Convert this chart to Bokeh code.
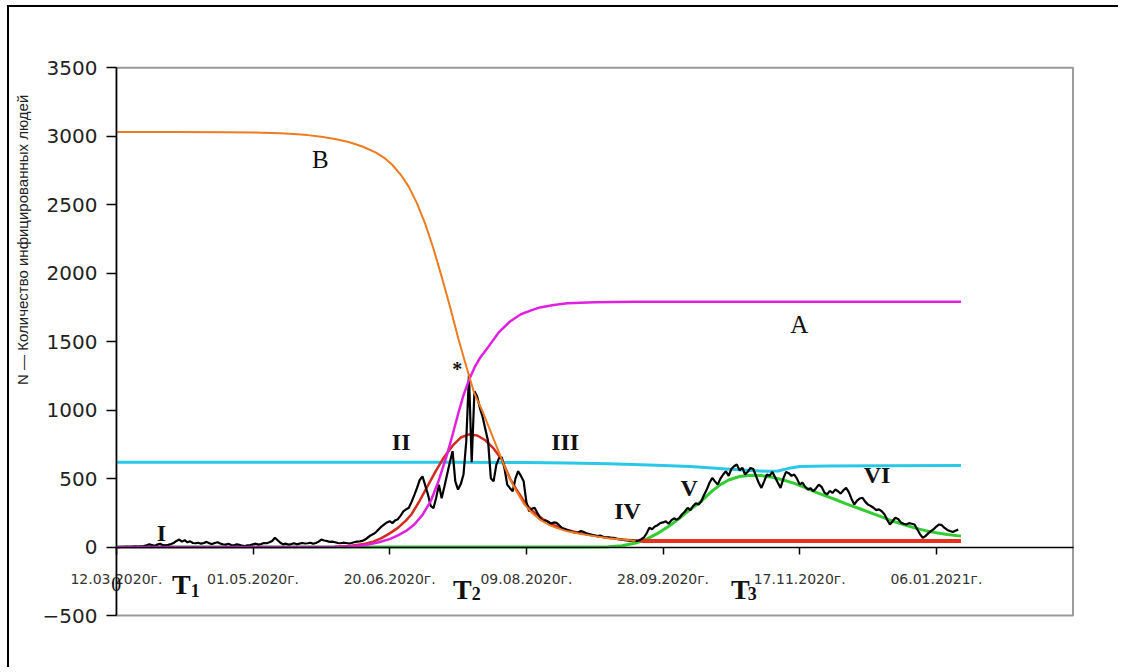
from math import pi
from bokeh.plotting import figure
from bokeh.models import Label, FixedTicker, BoxAnnotation
from bokeh.embed import file_html
from bokeh.resources import INLINE

# ---------------- data (days since 12.03.2020) ----------------
x_tick_days = [0, 50, 100, 150, 200, 250, 300]
x_tick_labels = ["12.03.2020г.", "01.05.2020г.", "20.06.2020г.", "09.08.2020г.",
                 "28.09.2020г.", "17.11.2020г.", "06.01.2021г."]
y_ticks = [-500, 0, 500, 1000, 1500, 2000, 2500, 3000, 3500]

# observed daily infected (black)
black_vals = [
    0, 0, 1, 2, 3, 2, 4, 5, 3, 6,
    8, 12, 20, 15, 10, 18, 25, 14, 12, 16,
    22, 30, 45, 55, 40, 50, 35, 42, 30, 28,
    32, 25, 30, 38, 28, 22, 30, 35, 26, 20,
    18, 24, 15, 12, 20, 16, 10, 8, 12, 15,
    20, 25, 18, 22, 30, 28, 35, 45, 68, 50,
    32, 20, 25, 18, 22, 28, 20, 25, 30, 26,
    28, 32, 24, 30, 40, 55, 48, 45, 38, 40,
    35, 30, 28, 32, 30, 26, 30, 35, 40, 42,
    45, 55, 70, 85, 95, 110, 130, 150, 165, 180,
    189, 175, 195, 204, 230, 260, 275, 287, 330, 380,
    432, 490, 517, 450, 384, 300, 284, 360, 456, 357,
    440, 530, 620, 700, 480, 420, 460, 530, 770, 1260,
    620, 1137, 1100, 1015, 950, 860, 772, 503, 480, 600,
    650, 655, 576, 456, 430, 408, 500, 554, 520, 480,
    330, 262, 280, 287, 250, 215, 190, 195, 185, 170,
    180, 177, 160, 140, 131, 125, 118, 110, 104, 108,
    117, 110, 100, 95, 90, 85, 80, 85, 75, 70,
    72, 68, 68, 60, 58, 55, 50, 48, 45, 50,
    44, 48, 58, 70, 100, 141, 130, 150, 160, 175,
    180, 189, 170, 195, 210, 200, 214, 240, 260, 287,
    270, 300, 320, 310, 335, 380, 420, 470, 505, 480,
    456, 500, 530, 554, 520, 570, 590, 603, 560, 580,
    530, 550, 578, 570, 520, 470, 432, 480, 530, 520,
    549, 510, 470, 432, 500, 549, 540, 520, 530, 500,
    456, 470, 440, 420, 430, 408, 430, 456, 440, 400,
    384, 410, 395, 420, 408, 390, 415, 432, 400, 350,
    311, 340, 355, 360, 330, 310, 300, 287, 270, 275,
    262, 240, 200, 165, 190, 214, 205, 180, 170, 165,
    175, 170, 165, 130, 95, 68, 80, 100, 117, 130,
    150, 165, 160, 140, 125, 117, 110, 120, 128,
]
black_days = list(range(len(black_vals)))

# curve B (orange)
b_days = [0, 20, 40, 50, 60, 65, 70, 75, 80, 85, 90, 95, 98, 101, 104, 107, 110, 113,
          116, 119, 122, 125, 128, 131, 134, 137, 140, 143, 146, 149, 152, 155, 158,
          161, 165, 170, 175, 180, 185, 190]
b_vals = [3030, 3030, 3029, 3027, 3022, 3016, 3008, 2996, 2980, 2958, 2925, 2880, 2842,
          2790, 2720, 2630, 2510, 2360, 2180, 1975, 1760, 1530, 1320, 1120, 990, 840,
          690, 540, 420, 320, 250, 200, 165, 140, 115, 95, 80, 65, 55, 46]

# curve A (magenta)
a_days = [0, 60, 80, 85, 90, 93, 96, 100, 103, 106, 109, 112, 115, 118, 121, 123, 125,
          127, 129, 131, 133, 136, 140, 144, 148, 152, 155, 160, 165, 175, 190, 220,
          260, 309]
a_vals = [0, 0, 2, 5, 12, 22, 35, 58, 85, 118, 165, 235, 335, 490, 677, 820, 970, 1110,
          1220, 1310, 1380, 1460, 1570, 1647, 1700, 1730, 1750, 1768, 1780, 1788, 1791,
          1792, 1792, 1792]

# wave II (red)
r_days = [80, 85, 90, 94, 97, 100, 103, 106, 108, 111, 114, 117, 120, 123, 126, 129,
          132, 135, 138, 141, 144, 147, 150, 153, 156, 160, 165, 170, 175, 180, 185,
          190, 192]
r_vals = [3, 8, 20, 40, 65, 100, 140, 195, 240, 340, 450, 560, 660, 740, 800, 823, 815,
          780, 720, 640, 500, 400, 310, 250, 205, 160, 125, 100, 82, 68, 56, 48, 44]
r_base_days = [192, 309]
r_base_vals = [44, 44]

# wave V-VI (green)
g_days = [0, 100, 170, 180, 185, 190, 194, 198, 202, 206, 210, 214, 218, 221, 224, 228,
          232, 236, 240, 244, 248, 252, 256, 260, 264, 268, 272, 276, 280, 284, 288,
          292, 296, 300, 304, 309]
g_vals = [0, 0, 0, 2, 10, 30, 58, 100, 150, 210, 275, 335, 410, 456, 490, 515, 525, 522,
          510, 490, 465, 435, 400, 370, 340, 308, 280, 250, 220, 190, 165, 140, 120,
          105, 92, 80]

# level (cyan)
c_days = [0, 60, 120, 150, 165, 180, 195, 210, 222, 232, 238, 242, 246, 250, 260, 280, 309]
c_vals = [620, 620, 619, 617, 614, 608, 600, 588, 572, 560, 553, 556, 575, 588, 592, 594, 595]

X_MIN, X_MAX = 0, 350
Y_MIN, Y_MAX = -500, 3500

# ---------------- figure ----------------
p = figure(frame_width=1066, frame_height=630, x_range=(-38, 352), y_range=(-850, 3750),
           output_backend="svg", toolbar_location=None,
           min_border_left=3, min_border_right=40, min_border_top=26, min_border_bottom=4)
p.styles = {"border-left": "2px solid black", "border-top": "2px solid black",
            "margin-left": "7px", "margin-top": "5px"}
p.background_fill_color = "white"
p.border_fill_color = "white"
p.xgrid.visible = False
p.ygrid.visible = False
p.outline_line_color = None

# gray plot-area border (top, right, bottom)
p.add_layout(BoxAnnotation(left=X_MIN, right=X_MAX, bottom=Y_MIN, top=Y_MAX,
                           fill_alpha=0, line_color="#999999", line_alpha=1.0,
                           line_width=2, level="underlay"))

xa = p.xaxis[0]
xa.fixed_location = 0
xa.bounds = (X_MIN, X_MAX)
xa.ticker = FixedTicker(ticks=x_tick_days)
xa.major_label_overrides = {d: s for d, s in zip(x_tick_days, x_tick_labels)}
xa.major_tick_in = 0
xa.major_tick_out = 7
xa.minor_tick_line_color = None
xa.axis_line_width = 1.5
xa.major_tick_line_width = 1.5
xa.major_label_standoff = 17
xa.major_label_text_font = "DejaVu Sans"
xa.major_label_text_font_size = "14px"
xa.major_label_text_color = "#333333"

ya = p.yaxis[0]
ya.fixed_location = 0
ya.bounds = (Y_MIN, Y_MAX)
ya.ticker = FixedTicker(ticks=y_ticks)
ya.major_tick_in = 0
ya.major_tick_out = 10
ya.minor_tick_line_color = None
ya.axis_line_width = 1.5
ya.major_tick_line_width = 1.5
ya.major_label_standoff = 9
ya.major_label_text_font = "DejaVu Sans"
ya.major_label_text_font_size = "20px"
ya.major_label_text_color = "#222222"

# ---------------- lines ----------------
p.line(c_days, c_vals, line_color="#2ac8e8", line_width=3)
p.line(g_days, g_vals, line_color="#33cc33", line_width=3)
p.line(r_base_days, r_base_vals, line_color="#e8301c", line_width=4)
p.line(r_days, r_vals, line_color="#d42a1e", line_width=2.5)
p.line(black_days, black_vals, line_color="black", line_width=2.2)
p.line(a_days, a_vals, line_color="#e020e0", line_width=2.5)
p.line(b_days, b_vals, line_color="#ee7a22", line_width=2)

# ---------------- annotations ----------------
serif = "Liberation Serif"

def lab(x, y, t, size, bold=False, color="#111111"):
    p.add_layout(Label(x=x, y=y, text=t, text_font=serif, text_font_size=size,
                       text_font_style="bold" if bold else "normal", text_color=color,
                       text_align="center", text_baseline="middle"))

lab(74.6, 2828, "B", "25px")
lab(249.8, 1624, "A", "25px")
lab(16.5, 106, "I", "24px", True)
lab(104.2, 770, "II", "24px", True)
lab(164.2, 770, "III", "24px", True)
lab(187.0, 266, "IV", "24px", True)
lab(209.6, 434, "V", "24px", True)
lab(278.3, 529, "VI", "24px", True)
lab(124.7, 1300, "*", "20px", True)
lab(0, -266, "0", "20px")
lab(23.8, -274, "T", "28px", True)
lab(28.9, -318, "1", "18px", True)
lab(126.6, -310, "T", "28px", True)
lab(131.7, -339, "2", "18px", True)
lab(228.3, -310, "T", "28px", True)
lab(232.6, -339, "3", "18px", True)

p.add_layout(Label(x=-34.4, y=2259, text="N — Количество инфицированных  людей",
                   angle=pi / 2, text_font="Liberation Sans", text_font_size="15px",
                   text_color="#222222", text_align="center", text_baseline="middle"))

open("out.html", "w").write(file_html(p, INLINE))
